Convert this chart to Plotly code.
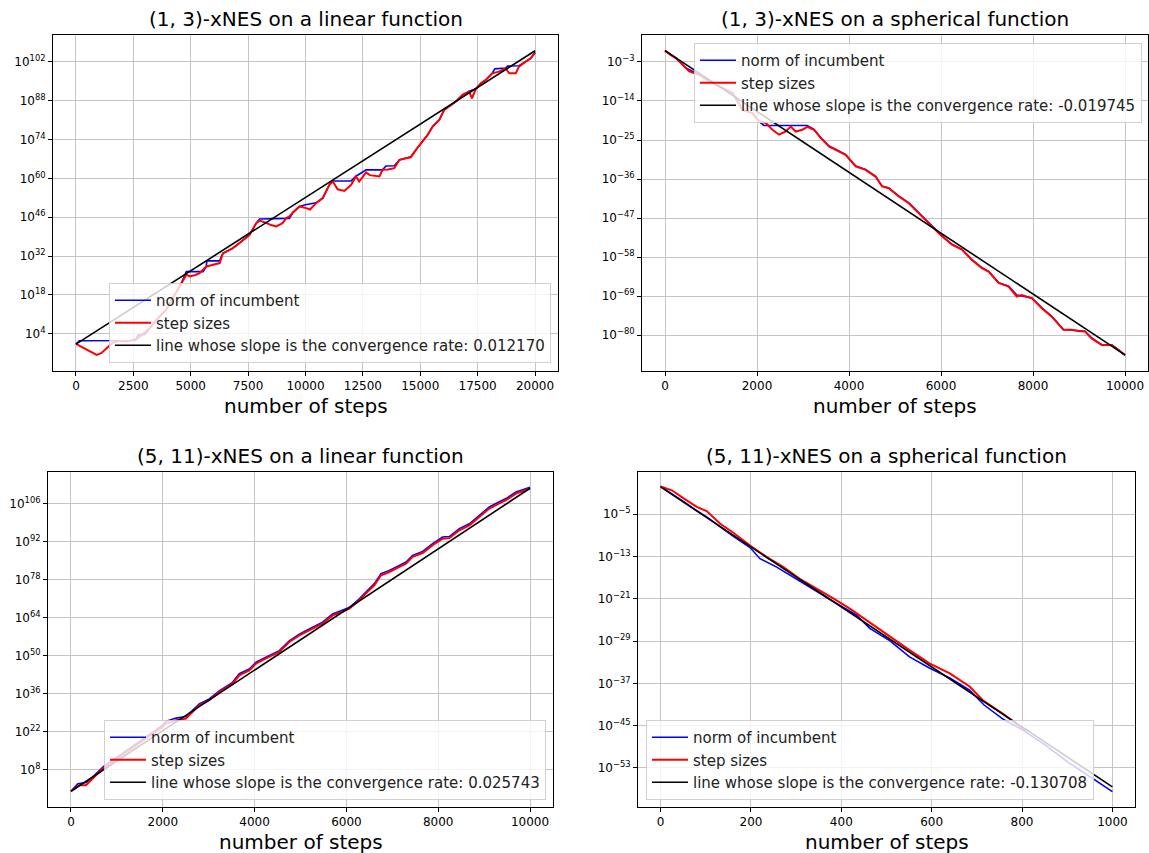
import numpy as np
import plotly.graph_objects as go

# ---------------------------------------------------------------------------
# Data: exponents (log10) of the tracked quantities at selected step counts
# ---------------------------------------------------------------------------

# (1, 3)-xNES on a linear function
lin13_steps_sigma = [0, 300, 600, 900, 1100, 1390, 1600, 1900, 2200, 2480, 2700, 2930, 3200, 3510,
                     3940, 4230, 4590, 4810, 4960, 5200, 5390, 5680, 5850, 6000, 6260, 6400, 6840,
                     7130, 7565, 7855, 8000, 8290, 8500, 8725, 9000, 9160, 9300, 9450, 9740, 10030,
                     10200, 10460, 10750, 11040, 11190, 11400, 11690, 11990, 12200, 12340, 12640,
                     12800, 13000, 13220, 13360, 13600, 13870, 14090, 14380, 14590, 14810, 15100,
                     15320, 15540, 15830, 16040, 16260, 16550, 16840, 17130, 17250, 17420, 17640,
                     17850, 18140, 18430, 18720, 18870, 19160, 19300, 19590, 19810, 20000]
lin13_log_sigma = [0.4, -1.0, -2.5, -3.6, -3.0, -1.0, 0.8, 1.5, 1.2, 1.8, 2.4, 4.0, 6.0, 9.0,
                   12.8, 17.0, 22.3, 25.3, 24.7, 25.2, 25.9, 28.3, 28.6, 29.0, 29.5, 33.0, 34.9,
                   36.7, 39.7, 43.9, 44.8, 44.0, 43.2, 42.7, 43.9, 45.7, 46.3, 47.7, 49.9, 49.3,
                   48.8, 51.1, 52.9, 57.7, 58.9, 56.1, 55.5, 57.7, 60.7, 58.9, 62.2,
                   61.2, 61.0, 60.7, 63.1, 63.2, 63.7, 66.7, 67.3, 67.6, 70.3, 73.3,
                   75.7, 78.7, 81.1, 84.7, 85.9, 87.7, 90.1, 91.3, 88.9, 92.2, 94.3,
                   95.5, 97.9, 98.5, 99.7, 97.9, 97.9, 100.3, 102.1, 103.3, 105.3]
lin13_steps_norm = [0, 150, 2600, 2700, 3000, 3510, 3940, 4230, 4590, 4810, 5540, 5680, 5700, 6260,
                    6400, 6840, 7130, 7565, 7855, 8000, 9300, 9450, 9740, 10000, 10460, 10750,
                    11040, 11190, 11990, 12200, 12640, 13360, 13500, 13870, 14090, 14380, 14590,
                    14810, 15100, 15320, 15540, 15830, 16040, 16260, 16550, 16840, 17130, 17420,
                    17640, 17850, 18140, 18250, 18720, 18800, 19300, 19590, 19810, 20000]
lin13_log_norm = [0.4, 1.5, 1.6, 3.6, 3.8, 9.0, 12.8, 17.0, 22.3, 26.4, 26.4, 28.3, 30.3, 30.3,
                  33.0, 34.9, 36.7, 39.7, 43.9, 45.4, 45.6, 47.7, 49.9, 50.5, 51.2, 52.9,
                  57.7, 59.1, 59.1, 60.8, 63.1, 63.1, 64.5, 64.6, 66.7, 67.4, 67.8,
                  70.3, 73.3, 75.7, 78.7, 81.1, 84.7, 85.9, 87.7, 90.1, 91.4, 92.3,
                  94.3, 95.5, 98.0, 99.5, 99.8, 100.5, 100.6, 102.1, 103.3, 105.5]

# (1, 3)-xNES on a spherical function
sph13_steps_sigma = [0, 120, 238, 350, 455, 527, 744, 900, 1106, 1300, 1467, 1600, 1683, 1900,
                     2046, 2191, 2335, 2480, 2625, 2733, 2842, 2985, 3093, 3239, 3384, 3564, 3709,
                     3926, 4143, 4360, 4577, 4720, 4866, 5083, 5300, 5517, 5734, 5987, 6239, 6456,
                     6673, 6890, 7035, 7252, 7469, 7649, 7758, 7975, 8192, 8408, 8662, 8843, 8990,
                     9132, 9276, 9493, 9710, 9855, 10000]
sph13_log_sigma = [0.19, -1.0, -1.9, -3.4, -4.7, -5.65, -6.6, -8.0, -9.4, -10.6, -11.7, -14.5, -16.5,
                   -17.4, -19.8, -20.2, -22.1, -23.5, -22.6, -21.2, -22.6, -22.1, -21.3, -22.1, -24.4,
                   -26.8, -27.7, -29.2, -32.4, -33.4, -35.3, -38.1, -38.6, -40.9, -42.8, -45.6, -48.4,
                   -51.7, -54.5, -55.9, -58.8, -61.1, -62.1, -65.3, -66.3, -69.1, -68.7, -69.6, -72.4,
                   -74.8, -78.5, -78.5, -78.8, -79.0, -80.9, -82.8, -82.8, -84.2, -85.6]
sph13_steps_norm = [0, 238, 455, 744, 1106, 1467, 1683, 1900, 2046, 2150, 3093, 3239, 3384, 3564,
                    3709, 3926, 4143, 4360, 4577, 4720, 4866, 5083, 5300, 5517, 5734, 5987, 6239,
                    6456, 6673, 6890, 7035, 7252, 7469, 7649, 7975, 8192, 8408, 8662, 9132, 9276,
                    9493, 9710, 9855, 10000]
sph13_log_norm = [0.19, -1.9, -4.7, -6.6, -9.4, -11.7, -16.5, -17.4, -19.8, -20.9, -20.9, -22.0,
                  -24.3, -26.7, -27.6, -29.1, -32.3, -33.3, -35.2, -38.0, -38.5, -40.8, -42.7,
                  -45.5, -48.3, -51.6, -54.4, -55.8, -58.7, -61.0, -62.0, -65.2, -66.2, -68.7,
                  -69.5, -72.3, -74.7, -78.4, -78.9, -80.8, -82.7, -82.7, -84.1, -85.7]

# (5, 11)-xNES on a linear function
lin511_steps_sigma = [0, 181, 327, 471, 700, 1000, 1300, 1600, 1800, 1996, 2069, 2288, 2505, 2795,
                      3013, 3231, 3521, 3667, 3885, 4031, 4248, 4538, 4756, 4974, 5264, 5482, 5700,
                      5917, 6063, 6281, 6427, 6608, 6754, 6935, 7153, 7298, 7442, 7660, 7878, 8096,
                      8242, 8460, 8678, 8895, 9113, 9331, 9477, 9695, 10000]
lin511_log_sigma = [0.0, 2.2, 2.2, 4.7, 8.5, 12.0, 15.5, 19.0, 21.5, 23.7, 25.0, 26.2, 26.8, 31.7,
                    33.6, 36.6, 39.7, 42.8, 44.6, 47.1, 49.0, 51.4, 55.1, 57.5, 60.0, 61.9, 64.9,
                    66.2, 67.4, 70.5, 73.0, 76.0, 79.7, 80.9, 82.8, 84.0, 86.5, 87.9, 90.8, 93.2,
                    93.4, 96.3, 98.1, 101.2, 104.3, 106.2, 107.4, 109.8, 111.7]
lin511_steps_norm = [0, 150, 327, 471, 700, 1000, 1300, 1600, 1800, 1996, 2069, 2288, 2505, 2795,
                     3013, 3231, 3521, 3667, 3885, 4031, 4248, 4538, 4756, 4974, 5264, 5482, 5700,
                     5917, 6063, 6281, 6427, 6608, 6754, 6935, 7153, 7298, 7442, 7660, 7878, 8096,
                     8242, 8460, 8678, 8895, 9113, 9331, 9477, 9695, 10000]
lin511_log_norm = [0.0, 2.8, 3.2, 5.2, 9.0, 12.5, 16.0, 19.5, 22.0, 24.3, 25.8, 27.0, 27.6, 32.2,
                   34.1, 37.0, 40.2, 43.4, 45.1, 47.6, 49.5, 51.9, 55.5, 58.0, 60.5, 62.4, 65.4,
                   66.7, 67.8, 71.0, 73.5, 76.6, 80.3, 81.5, 83.3, 84.6, 87.0, 88.5, 91.4, 93.8,
                   94.0, 96.9, 98.7, 101.8, 104.9, 106.8, 108.0, 110.4, 112.2]

# (5, 11)-xNES on a spherical function
sph511_steps_sigma = [0, 25, 51, 80, 102, 132, 161, 198, 235, 272, 308, 345, 382, 418, 455, 507,
                      551, 595, 640, 684, 713, 757, 801, 816]
sph511_log_sigma = [0.29, -0.46, -2.0, -3.6, -4.4, -6.8, -8.5, -10.9, -13.1, -15.0, -17.2, -19.0,
                    -20.9, -22.8, -25.0, -28.2, -30.7, -33.2, -35.1, -37.6, -40.2, -42.7, -45.5,
                    -46.1]
sph511_steps_norm = [0, 25, 51, 80, 102, 132, 161, 198, 220, 257, 300, 338, 382, 434, 463, 507, 551,
                     595, 640, 684, 716, 760, 801, 850, 900, 963, 1000]
sph511_log_norm = [0.29, -1.2, -2.6, -4.3, -5.5, -7.4, -9.2, -11.3, -13.4, -15.0, -17.3, -19.2,
                   -21.5, -24.1, -26.6, -28.9, -32.0, -34.1, -36.0, -38.3, -41.1, -43.9, -45.8,
                   -48.6, -51.8, -55.3, -57.5]

# Fitted convergence rates (natural-log slope per step) and fit intercepts (log10)
conv_rates = [0.012170, -0.019745, 0.025743, -0.130708]
fit_log10_intercepts = [0.3, 0.19, 0.0, 0.17]
max_steps = [20000, 10000, 10000, 1000]

titles = ["(1, 3)-xNES on a linear function", "(1, 3)-xNES on a spherical function",
          "(5, 11)-xNES on a linear function", "(5, 11)-xNES on a spherical function"]

# y tick exponents and x tick spacing per panel
ytick_exponents = [list(range(4, 103, 14)), list(range(-80, -2, 11)),
                   list(range(8, 107, 14)), list(range(-53, -4, 8))]
xtick_steps = [2500, 2000, 2000, 200]

# ---------------------------------------------------------------------------
# Layout of the 2x2 grid (paper fractions)
# ---------------------------------------------------------------------------
W, H = 1149, 853
boxes = [  # left, right, top, bottom in pixels
    (53, 558, 35, 371),
    (642, 1148, 35, 371),
    (48, 553, 472, 807),
    (638, 1135, 472, 807),
]
yranges = [(-9.4, 111.7), (-90.1, 4.6), (-5.8, 117.8), (-60.4, 3.0)]
legend_pos = [
    dict(x=551 / W, y=(H - 363) / H, xanchor="right", yanchor="bottom"),
    dict(x=1142 / W, y=(H - 43) / H, xanchor="right", yanchor="top"),
    dict(x=546 / W, y=(H - 800) / H, xanchor="right", yanchor="bottom"),
    dict(x=646 / W, y=(H - 800) / H, xanchor="left", yanchor="bottom"),
]

series = [
    (lin13_steps_norm, lin13_log_norm, lin13_steps_sigma, lin13_log_sigma),
    (sph13_steps_norm, sph13_log_norm, sph13_steps_sigma, sph13_log_sigma),
    (lin511_steps_norm, lin511_log_norm, lin511_steps_sigma, lin511_log_sigma),
    (sph511_steps_norm, sph511_log_norm, sph511_steps_sigma, sph511_log_sigma),
]

FONT = "DejaVu Sans"


def sup_label(k):
    s = str(k).replace("-", "\u2212")
    return f"10<sup>{s}</sup>"


fig = go.Figure()
layout = dict(
    width=W, height=H,
    margin=dict(l=0, r=0, t=0, b=0),
    paper_bgcolor="white", plot_bgcolor="white",
    font=dict(family=FONT, color="black"),
    annotations=[],
)

for i in range(4):
    n = i + 1
    sfx = "" if n == 1 else str(n)
    xa, ya = f"x{sfx}", f"y{sfx}"
    leg = "legend" if n == 1 else f"legend{n}"
    xs_n, ys_n, xs_s, ys_s = series[i]

    fig.add_trace(go.Scatter(
        x=xs_n, y=np.power(10.0, ys_n), mode="lines", name="norm of incumbent",
        line=dict(color="blue", width=1.6), xaxis=xa, yaxis=ya, legend=leg))
    fig.add_trace(go.Scatter(
        x=xs_s, y=np.power(10.0, ys_s), mode="lines", name="step sizes",
        line=dict(color="red", width=2.0), xaxis=xa, yaxis=ya, legend=leg))
    t_line = np.array([0.0, max_steps[i]])
    y_line = np.power(10.0, fit_log10_intercepts[i]) * np.exp(conv_rates[i] * t_line)
    fig.add_trace(go.Scatter(
        x=t_line, y=y_line, mode="lines",
        name=f"line whose slope is the convergence rate: {conv_rates[i]:.6f}",
        line=dict(color="black", width=1.6), xaxis=xa, yaxis=ya, legend=leg))

    l, r, t, b = boxes[i]
    xdom = [l / W, r / W]
    ydom = [(H - b) / H, (H - t) / H]
    tmax = max_steps[i]
    axis_common = dict(
        showline=True, linecolor="black", linewidth=1, mirror=True,
        ticks="outside", ticklen=4, tickwidth=1, tickcolor="black",
        showgrid=True, gridcolor="#c4c4c4", gridwidth=1, zeroline=False,
        tickfont=dict(family=FONT, size=12, color="black"),
    )
    layout[f"xaxis{sfx}"] = dict(
        domain=xdom, anchor=ya, range=[-0.05 * tmax, 1.05 * tmax],
        tick0=0, dtick=xtick_steps[i], tickformat="d", **axis_common)
    exps = ytick_exponents[i]
    layout[f"yaxis{sfx}"] = dict(
        domain=ydom, anchor=xa, type="log", range=list(yranges[i]),
        tickvals=[10.0 ** k for k in exps], ticktext=[sup_label(k) for k in exps],
        **axis_common)

    layout[leg] = dict(
        **legend_pos[i],
        bgcolor="rgba(255,255,255,0.8)", bordercolor="rgba(204,204,204,0.9)", borderwidth=1,
        font=dict(family=FONT, size=15, color="#222"),
        tracegroupgap=0, itemwidth=36,
    )

    cx = (xdom[0] + xdom[1]) / 2
    layout["annotations"].append(dict(
        text=titles[i], x=cx, y=ydom[1], xref="paper", yref="paper",
        xanchor="center", yanchor="bottom", yshift=2, showarrow=False,
        font=dict(family=FONT, size=20, color="black")))
    layout["annotations"].append(dict(
        text="number of steps", x=cx, y=ydom[0], xref="paper", yref="paper",
        xanchor="center", yanchor="top", yshift=-21, showarrow=False,
        font=dict(family=FONT, size=20, color="black")))

fig.update_layout(**layout)
fig.write_html("out.html")
